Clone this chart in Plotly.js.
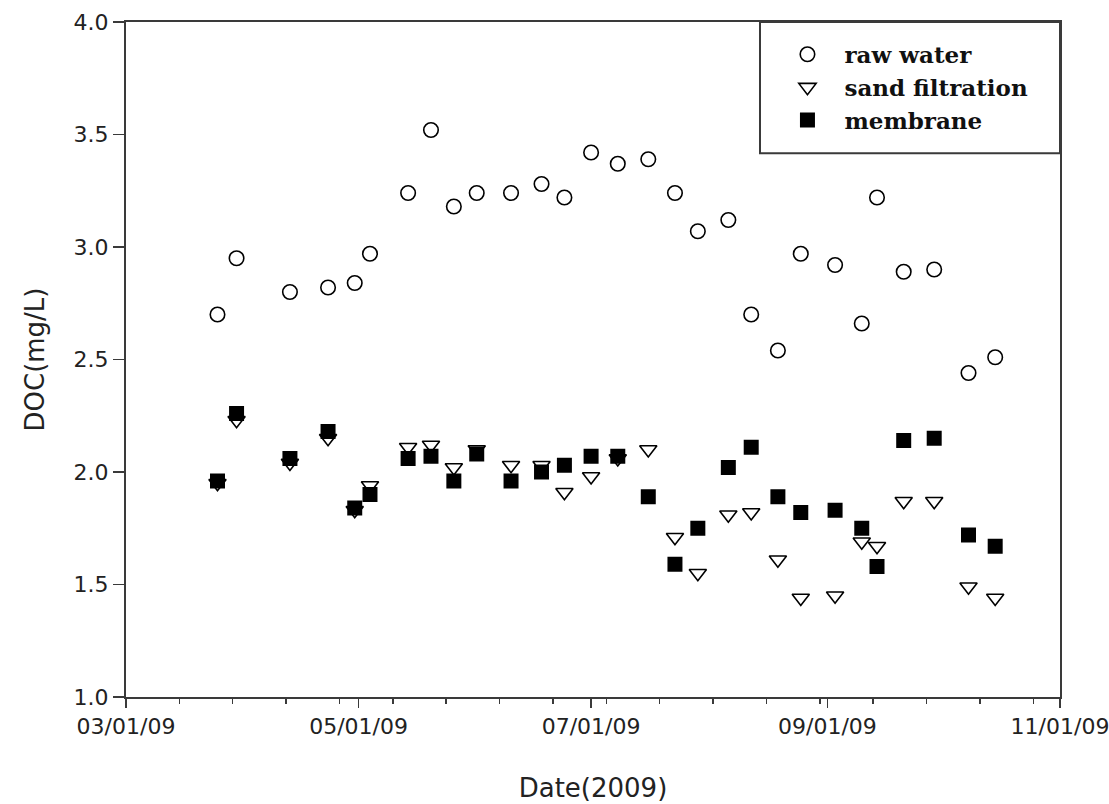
<!DOCTYPE html>
<html>
<head>
<meta charset="utf-8">
<script src="https://cdn.plot.ly/plotly-3.0.1.min.js"></script>
<style>
  html, body { margin: 0; padding: 0; background: #ffffff; }
  #chart { width: 1109px; height: 804px; }
</style>
</head>
<body>
<div id="chart"></div>
<script>
// Sampling dates (2009)
const dates = [
  '2009-03-25', '2009-03-30', '2009-04-13', '2009-04-23', '2009-04-30',
  '2009-05-04', '2009-05-14', '2009-05-20', '2009-05-26', '2009-06-01',
  '2009-06-10', '2009-06-18', '2009-06-24', '2009-07-01', '2009-07-08',
  '2009-07-16', '2009-07-23', '2009-07-29', '2009-08-06', '2009-08-12',
  '2009-08-19', '2009-08-25', '2009-09-03', '2009-09-10', '2009-09-14',
  '2009-09-21', '2009-09-29', '2009-10-08', '2009-10-15'
];

// DOC (mg/L)
const rawWater = [
  2.70, 2.95, 2.80, 2.82, 2.84, 2.97, 3.24, 3.52, 3.18, 3.24,
  3.24, 3.28, 3.22, 3.42, 3.37, 3.39, 3.24, 3.07, 3.12, 2.70,
  2.54, 2.97, 2.92, 2.66, 3.22, 2.89, 2.90, 2.44, 2.51
];
const sandFiltration = [
  1.95, 2.23, 2.04, 2.15, 1.83, 1.94, 2.11, 2.12, 2.02, 2.10,
  2.03, 2.03, 1.91, 1.98, 2.06, 2.10, 1.71, 1.55, 1.81, 1.82,
  1.61, 1.44, 1.45, 1.69, 1.67, 1.87, 1.87, 1.49, 1.44
];
const membrane = [
  1.96, 2.26, 2.06, 2.18, 1.84, 1.90, 2.06, 2.07, 1.96, 2.08,
  1.96, 2.00, 2.03, 2.07, 2.07, 1.89, 1.59, 1.75, 2.02, 2.11,
  1.89, 1.82, 1.83, 1.75, 1.58, 2.14, 2.15, 1.72, 1.67
];

const seriesNames = ['raw water', 'sand filtration', 'membrane'];
const xAxisTitle = 'Date(2009)';
const yAxisTitle = 'DOC(mg/L)';

const axisColor = '#3a3a3a';
const textColor = '#222222';
const tickFont = { family: 'DejaVu Sans, Arial, sans-serif', size: 22, color: textColor };

const traces = [
  {
    x: dates, y: rawWater, name: seriesNames[0], type: 'scatter', mode: 'markers',
    marker: { symbol: 'circle-open', size: 14.5, color: '#000', line: { width: 1.6, color: '#000' } }
  },
  {
    x: dates, y: sandFiltration, name: seriesNames[1], type: 'scatter', mode: 'markers',
    marker: { symbol: 'triangle-down-open', size: 15, color: '#000', line: { width: 1.6, color: '#000' } }
  },
  {
    x: dates, y: membrane, name: seriesNames[2], type: 'scatter', mode: 'markers',
    marker: { symbol: 'square', size: 15, color: '#000', line: { width: 0 } }
  }
];

const layout = {
  width: 1109,
  height: 804,
  margin: { l: 126, r: 49, t: 22, b: 107, pad: 0 },
  paper_bgcolor: '#ffffff',
  plot_bgcolor: '#ffffff',
  showlegend: true,
  legend: {
    x: 0.690, xanchor: 'left',
    y: 0.984, yanchor: 'top',
    bgcolor: 'rgba(0,0,0,0)',
    borderwidth: 0,
    itemwidth: 64,
    tracegroupgap: 0,
    font: { family: 'DejaVu Serif, serif', size: 23, color: '#111', weight: 'bold' }
  },
  xaxis: {
    type: 'date',
    range: ['2009-03-01', '2009-11-01'],
    tick0: '2009-03-01',
    dtick: 'M2',
    tickformat: '%m/%d/%y',
    ticks: 'outside',
    ticklen: 9,
    tickwidth: 1.5,
    tickcolor: axisColor,
    showline: true,
    linecolor: axisColor,
    linewidth: 2,
    mirror: true,
    showgrid: false,
    zeroline: false,
    ticklabeloverflow: 'allow',
    tickfont: tickFont,
    minor: {
      tick0: '2009-03-01',
      dtick: 14 * 86400000,
      ticks: 'outside',
      ticklen: 5,
      tickwidth: 1.5,
      tickcolor: axisColor,
      showgrid: false
    },
    title: {
      text: xAxisTitle,
      standoff: 40,
      font: { family: 'DejaVu Sans, Arial, sans-serif', size: 26, color: textColor }
    }
  },
  yaxis: {
    range: [1, 4],
    tick0: 1,
    dtick: 0.5,
    tickformat: '.1f',
    ticks: 'outside',
    ticklen: 11,
    tickwidth: 1.5,
    tickcolor: axisColor,
    showline: true,
    linecolor: axisColor,
    linewidth: 2,
    mirror: true,
    showgrid: false,
    zeroline: false,
    ticklabeloverflow: 'allow',
    tickfont: tickFont,
    title: {
      text: yAxisTitle,
      standoff: 21,
      font: { family: 'DejaVu Sans, Arial, sans-serif', size: 26, color: textColor }
    }
  },
  shapes: [
    {
      type: 'rect', xref: 'paper', yref: 'paper',
      x0: 0.6788, x1: 1, y0: 0.8056, y1: 1,
      line: { color: axisColor, width: 2 },
      fillcolor: 'rgba(0,0,0,0)',
      layer: 'above'
    }
  ]
};

Plotly.newPlot('chart', traces, layout, { displayModeBar: false, staticPlot: true });
</script>
</body>
</html>
